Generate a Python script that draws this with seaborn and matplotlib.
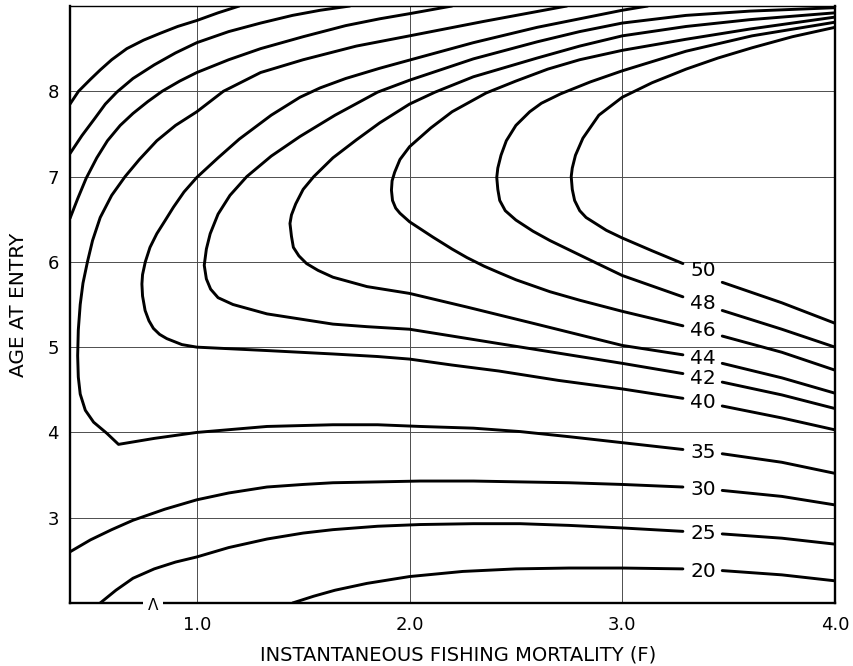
import matplotlib
matplotlib.use("Agg")
import matplotlib.pyplot as plt
import pandas as pd
import seaborn as sns

# ---------------- axis definitions ----------------
f_limits = [0.404, 4.0]
age_limits = [2.0, 9.0]
f_ticks = [1.0, 2.0, 3.0, 4.0]
f_tick_labels = ["1.0", "2.0", "3.0", "4.0"]
age_ticks = [3, 4, 5, 6, 7, 8]
age_tick_labels = ["3", "4", "5", "6", "7", "8"]
x_title = "INSTANTANEOUS FISHING MORTALITY (F)"
y_title = "AGE AT ENTRY"

# ---------------- isopleth traces (F, age at entry) ----------------
iso20_lower = [(1.45, 2.0), (1.55, 2.08), (1.65, 2.15), (1.8, 2.23), (2.0, 2.31), (2.25, 2.37),
               (2.5, 2.40), (2.75, 2.41), (3.0, 2.41), (3.285, 2.40)]
iso20_right = [(3.47, 2.38), (3.75, 2.33), (4.0, 2.26)]
iso20_upper = [(0.404, 7.85), (0.444, 8.0), (0.5, 8.14), (0.546, 8.25), (0.6, 8.37), (0.671, 8.50),
               (0.75, 8.60), (0.828, 8.68), (0.91, 8.76), (1.0, 8.83), (1.1, 8.92), (1.2, 9.0)]

iso25_lower = [(0.546, 2.0), (0.62, 2.15), (0.70, 2.29), (0.8, 2.40), (0.9, 2.48), (1.0, 2.54),
               (1.15, 2.65), (1.33, 2.75), (1.5, 2.82), (1.64, 2.86), (1.85, 2.90), (2.05, 2.92),
               (2.3, 2.93), (2.52, 2.93), (2.75, 2.91), (3.0, 2.88), (3.285, 2.84)]
iso25_right = [(3.47, 2.81), (3.75, 2.76), (4.0, 2.69)]
iso25_upper = [(0.404, 7.27), (0.46, 7.48), (0.52, 7.68), (0.57, 7.85), (0.624, 7.99), (0.7, 8.15),
               (0.8, 8.31), (0.9, 8.45), (1.0, 8.57), (1.15, 8.70), (1.3, 8.80), (1.45, 8.89),
               (1.58, 8.95), (1.72, 9.0)]

iso30_lower = [(0.404, 2.60), (0.5, 2.74), (0.6, 2.86), (0.70, 2.97), (0.85, 3.10), (1.0, 3.21),
               (1.15, 3.29), (1.33, 3.36), (1.5, 3.39), (1.64, 3.41), (1.85, 3.42), (2.05, 3.43),
               (2.3, 3.43), (2.52, 3.42), (2.75, 3.41), (3.0, 3.39), (3.285, 3.36)]
iso30_right = [(3.47, 3.32), (3.75, 3.25), (4.0, 3.15)]
iso30_upper = [(0.404, 6.51), (0.44, 6.74), (0.48, 6.98), (0.53, 7.22), (0.58, 7.42), (0.64, 7.60),
               (0.7, 7.74), (0.77, 7.88), (0.837, 8.0), (0.92, 8.12), (1.0, 8.22), (1.15, 8.37),
               (1.3, 8.50), (1.5, 8.64), (1.7, 8.77), (1.86, 8.85), (2.0, 8.91), (2.2, 9.0)]

iso35_main = [(2.74, 9.0), (2.35, 8.82), (2.0, 8.65), (1.75, 8.53), (1.5, 8.37), (1.3, 8.22),
              (1.125, 8.0), (1.0, 7.76), (0.9, 7.6), (0.812, 7.42), (0.73, 7.2), (0.663, 7.0),
              (0.6, 6.78), (0.546, 6.52), (0.51, 6.25), (0.486, 6.0), (0.465, 5.75), (0.452, 5.5),
              (0.443, 5.2), (0.44, 4.9), (0.443, 4.65), (0.452, 4.45), (0.476, 4.26), (0.515, 4.12),
              (0.577, 3.99), (0.632, 3.86), (0.8, 3.93), (1.0, 4.0), (1.33, 4.07), (1.64, 4.09),
              (1.85, 4.09), (2.05, 4.07), (2.3, 4.05), (2.52, 4.01), (2.75, 3.95), (3.0, 3.88),
              (3.285, 3.80)]
iso35_right = [(3.47, 3.75), (3.75, 3.65), (4.0, 3.52)]

iso40_main = [(3.12, 9.0), (3.0, 8.95), (2.8, 8.85), (2.6, 8.75), (2.3, 8.57), (2.05, 8.40),
              (1.86, 8.27), (1.7, 8.15), (1.58, 8.04), (1.485, 7.93), (1.35, 7.72), (1.2, 7.44),
              (1.1, 7.22), (1.0, 6.99), (0.94, 6.82), (0.89, 6.64), (0.85, 6.48), (0.812, 6.33),
              (0.78, 6.17), (0.758, 6.0), (0.745, 5.85), (0.742, 5.74), (0.745, 5.6),
              (0.757, 5.43), (0.775, 5.31), (0.796, 5.22), (0.825, 5.15), (0.859, 5.10),
              (0.93, 5.03), (1.0, 5.0), (1.33, 4.96), (1.64, 4.92), (1.85, 4.89), (2.0, 4.86),
              (2.2, 4.79), (2.42, 4.72), (2.7, 4.61), (3.0, 4.51), (3.285, 4.40)]
iso40_right = [(3.47, 4.31), (3.75, 4.17), (4.0, 4.03)]

iso42_main = [(4.0, 8.98), (3.6, 8.94), (3.3, 8.89), (3.0, 8.80), (2.8, 8.70), (2.6, 8.58),
              (2.3, 8.38), (2.0, 8.13), (1.85, 7.99), (1.65, 7.72), (1.485, 7.47), (1.35, 7.24),
              (1.235, 7.0), (1.156, 6.78), (1.1, 6.56), (1.063, 6.33), (1.045, 6.15),
              (1.035, 5.96), (1.045, 5.80), (1.065, 5.68), (1.1, 5.58), (1.17, 5.50),
              (1.33, 5.39), (1.64, 5.27), (1.8, 5.24), (2.0, 5.21), (2.2, 5.13), (2.424, 5.04),
              (2.7, 4.93), (3.0, 4.81), (3.285, 4.69)]
iso42_right = [(3.47, 4.59), (3.75, 4.44), (4.0, 4.28)]

iso44_main = [(4.0, 8.92), (3.6, 8.84), (3.3, 8.76), (3.0, 8.65), (2.8, 8.53), (2.6, 8.39),
              (2.3, 8.17), (2.12, 7.99), (2.0, 7.85), (1.86, 7.63), (1.75, 7.43), (1.64, 7.22),
              (1.55, 7.0), (1.5, 6.85), (1.465, 6.68), (1.445, 6.55), (1.438, 6.45),
              (1.445, 6.30), (1.454, 6.17), (1.48, 6.07), (1.516, 5.98), (1.57, 5.90),
              (1.64, 5.82), (1.8, 5.71), (2.0, 5.63), (2.27, 5.47), (2.58, 5.28), (3.0, 5.02),
              (3.285, 4.91)]
iso44_right = [(3.47, 4.81), (3.75, 4.64), (4.0, 4.46)]

iso46_main = [(4.0, 8.87), (3.6, 8.73), (3.3, 8.61), (3.0, 8.48), (2.8, 8.37), (2.65, 8.26),
              (2.5, 8.12), (2.36, 7.98), (2.2, 7.76), (2.1, 7.57), (2.0, 7.35), (1.955, 7.2),
              (1.93, 7.05), (1.918, 6.95), (1.915, 6.84), (1.92, 6.72), (1.935, 6.63),
              (1.955, 6.57), (2.0, 6.47), (2.11, 6.29), (2.2, 6.15), (2.27, 6.05), (2.35, 5.95),
              (2.424, 5.87), (2.5, 5.79), (2.58, 5.72), (2.66, 5.65), (2.8, 5.55), (3.0, 5.42),
              (3.285, 5.25)]
iso46_right = [(3.47, 5.13), (3.75, 4.94), (4.0, 4.73)]

iso48_main = [(4.0, 8.81), (3.61, 8.65), (3.3, 8.47), (3.0, 8.24), (2.85, 8.11), (2.71, 7.97),
              (2.62, 7.86), (2.565, 7.76), (2.5, 7.6), (2.455, 7.42), (2.43, 7.25), (2.415, 7.1),
              (2.41, 6.99), (2.415, 6.85), (2.424, 6.72), (2.45, 6.6), (2.50, 6.49),
              (2.58, 6.36), (2.66, 6.25), (2.85, 6.02), (3.0, 5.84), (3.285, 5.59)]
iso48_right = [(3.47, 5.43), (3.75, 5.21), (4.0, 5.0)]

iso50_main = [(4.0, 8.75), (3.8, 8.64), (3.61, 8.51), (3.45, 8.39), (3.3, 8.26), (3.14, 8.10),
              (3.0, 7.93), (2.89, 7.72), (2.815, 7.45), (2.78, 7.25), (2.765, 7.1), (2.76, 7.0),
              (2.765, 6.85), (2.776, 6.72), (2.8, 6.60), (2.83, 6.52), (2.925, 6.37), (3.0, 6.28),
              (3.14, 6.13), (3.285, 5.98)]
iso50_right = [(3.47, 5.76), (3.75, 5.52), (4.0, 5.28)]

# contour labels: value and age position (all placed at the same F)
label_values = [50, 48, 46, 44, 42, 40, 35, 30, 25, 20]
label_ages = [5.90, 5.51, 5.19, 4.87, 4.63, 4.35, 3.77, 3.33, 2.82, 2.37]
label_f = 3.38

segments = {
    "20a": iso20_lower, "20b": iso20_right, "20c": iso20_upper,
    "25a": iso25_lower, "25b": iso25_right, "25c": iso25_upper,
    "30a": iso30_lower, "30b": iso30_right, "30c": iso30_upper,
    "35a": iso35_main, "35b": iso35_right,
    "40a": iso40_main, "40b": iso40_right,
    "42a": iso42_main, "42b": iso42_right,
    "44a": iso44_main, "44b": iso44_right,
    "46a": iso46_main, "46b": iso46_right,
    "48a": iso48_main, "48b": iso48_right,
    "50a": iso50_main, "50b": iso50_right,
}

rows = []
for seg, pts in segments.items():
    for i, (f, a) in enumerate(pts):
        rows.append({"seg": seg, "order": i, "F": f, "Age": a})
df = pd.DataFrame(rows)

# ---------------- styling ----------------
sns.set_style("white")
plt.rcParams["font.family"] = ["DejaVu Sans"]

fig = plt.figure(figsize=(8.54, 6.66), dpi=100)
ax = fig.add_axes([70 / 854, 63 / 666, 765 / 854, 597 / 666])

ax.grid(True, color="0.3", linewidth=0.7)
ax.set_axisbelow(True)

sns.lineplot(data=df, x="F", y="Age", units="seg", estimator=None, sort=False,
             color="black", linewidth=2.1, legend=False, ax=ax, zorder=3)

for v, a in zip(label_values, label_ages):
    ax.text(label_f, a, str(v), ha="center", va="center", fontsize=14.5,
            color="black", zorder=4)

ax.set_xlim(*f_limits)
ax.set_ylim(*age_limits)
ax.set_xticks(f_ticks)
ax.set_xticklabels(f_tick_labels)
ax.set_yticks(age_ticks)
ax.set_yticklabels(age_tick_labels)
ax.tick_params(axis="both", length=0, labelsize=13, colors="black")
ax.tick_params(axis="x", pad=9)
ax.tick_params(axis="y", pad=8)

ax.set_xlabel(x_title, fontsize=14, color="black")
ax.xaxis.set_label_coords(0.508, -0.072)
ax.set_ylabel(y_title, fontsize=14.5, labelpad=14, color="black")

for side in ["left", "bottom", "right"]:
    ax.spines[side].set_linewidth(1.7)
    ax.spines[side].set_color("black")
ax.spines["top"].set_linewidth(1.0)
ax.spines["top"].set_color("black")

# small break mark on the F axis
ax.text(0.795, 1.97, "\u039b", ha="center", va="center", fontsize=11, color="black",
        bbox=dict(facecolor="white", edgecolor="none", pad=3.5), clip_on=False, zorder=6)

fig.savefig("out.png", dpi=100)
